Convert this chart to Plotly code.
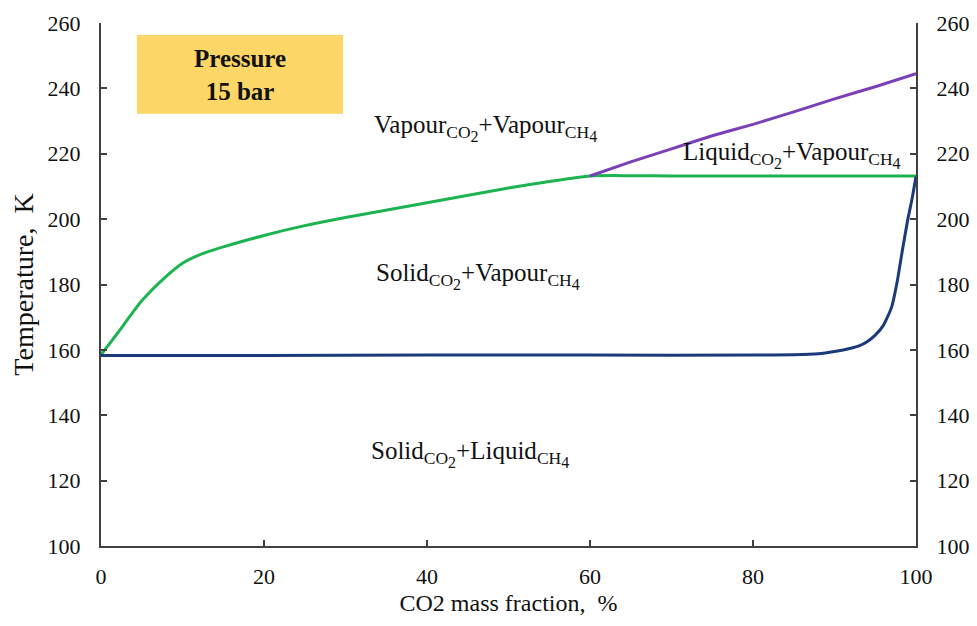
import plotly.graph_objects as go

# Data
green_x = [0, 2, 5, 8, 10, 12, 15, 20, 25, 30, 40, 50, 55, 60, 65, 70, 80, 90, 100]
green_y = [158.5, 165, 175, 182.5, 186.5, 189, 191.5, 195, 198, 200.5, 205, 209.5, 211.5, 213.2, 213.3, 213.2, 213.2, 213.2, 213.2]

purple_x = [60, 65, 70, 75, 80, 85, 90, 95, 100]
purple_y = [213.2, 217.5, 221.5, 225.5, 229, 232.8, 236.8, 240.5, 244.5]

blue_x = [0, 20, 40, 60, 80, 85, 88, 90, 92, 93, 94, 95, 96, 97, 97.7, 98.3, 99, 99.5, 100]
blue_y = [158.3, 158.3, 158.4, 158.4, 158.4, 158.5, 158.8, 159.5, 160.5, 161.2, 162.5, 164.5, 167.5, 173, 181, 190, 200, 206, 213]

x_ticks = [0, 20, 40, 60, 80, 100]
y_ticks = [100, 120, 140, 160, 180, 200, 220, 240, 260]

FONT = "Liberation Serif, Times New Roman, serif"

fig = go.Figure()
fig.add_trace(go.Scatter(x=green_x, y=green_y, mode="lines", line=dict(color="#1DB351", width=3, shape="spline", smoothing=0.6)))
fig.add_trace(go.Scatter(x=purple_x, y=purple_y, mode="lines", line=dict(color="#7B3FB8", width=3, shape="spline", smoothing=0.4)))
fig.add_trace(go.Scatter(x=blue_x, y=blue_y, mode="lines", line=dict(color="#1B3A7A", width=3, shape="spline", smoothing=0.5)))
# invisible trace for right axis
fig.add_trace(go.Scatter(x=[0], y=[100], yaxis="y2", mode="markers", marker=dict(opacity=0), hoverinfo="skip"))

axis_common = dict(showgrid=False, zeroline=False, showline=True, linecolor="#404040", linewidth=2,
                   ticks="inside", ticklen=6, tickwidth=1.5, tickcolor="#404040",
                   tickfont=dict(family=FONT, size=22, color="#111"))

fig.update_layout(
    width=969, height=618,
    margin=dict(l=93, r=61, t=15, b=80, autoexpand=False),
    paper_bgcolor="white", plot_bgcolor="white",
    showlegend=False,
    font=dict(family=FONT, color="#111"),
    xaxis=dict(range=[0, 100], tickvals=x_ticks, ticklabelstandoff=10, **axis_common,
               title=dict(text="CO2 mass fraction,  %", font=dict(family=FONT, size=24), standoff=6)),
    yaxis=dict(range=[100, 260], tickvals=y_ticks, ticklabelstandoff=14, **axis_common,
               title=dict(text="Temperature,  K", font=dict(family=FONT, size=28), standoff=6)),
    yaxis2=dict(range=[100, 260], tickvals=y_ticks, ticklabelstandoff=14, overlaying="y", side="right", **axis_common),
)

fig.add_shape(type="rect", xref="x", yref="y", x0=4.4, x1=29.7, y0=232.2, y1=256.3,
              fillcolor="#FCD667", line=dict(width=0), layer="below")
fig.add_annotation(x=17.05, y=244.2, xref="x", yref="y", showarrow=False,
                   text="<b>Pressure<br>15 bar</b>", font=dict(family=FONT, size=25, color="#111"))

def sub(base, digit):
    return "<sub>" + base + "<sub><span style='font-size:16px'>" + digit + "</span></sub></sub>"

labels = [
    (47.2, 228, "Vapour" + sub("CO", "2") + "+Vapour" + sub("CH", "4")),
    (84.8, 219.7, "Liquid" + sub("CO", "2") + "+Vapour" + sub("CH", "4")),
    (46.3, 182.7, "Solid" + sub("CO", "2") + "+Vapour" + sub("CH", "4")),
    (45.3, 128, "Solid" + sub("CO", "2") + "+Liquid" + sub("CH", "4")),
]
for lx, ly, lt in labels:
    fig.add_annotation(x=lx, y=ly, xref="x", yref="y", showarrow=False, text=lt,
                       font=dict(family=FONT, size=25, color="#111"))

fig.write_html("out.html")
